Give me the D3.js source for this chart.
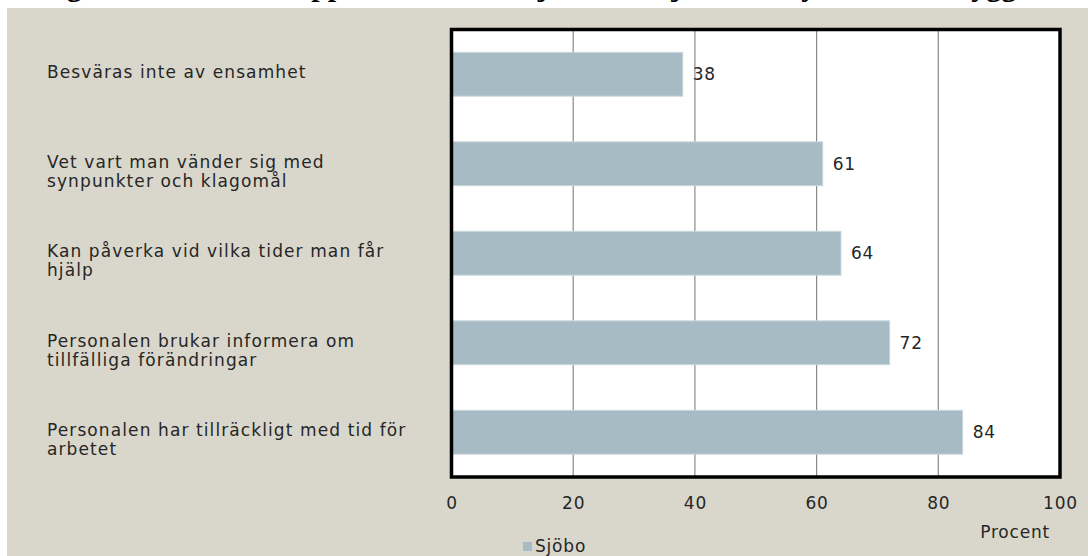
<!DOCTYPE html>
<html>
<head>
<meta charset="utf-8">
<script src="https://cdn.jsdelivr.net/npm/d3@7"></script>
<style>
  body { margin: 0; background: #fff; }
  svg { display: block; }
  text { font-family: "DejaVu Sans", sans-serif; fill: #262626; letter-spacing: 0.8px; }
</style>
</head>
<body>
<div id="chart"></div>
<script>
// data
var categories = [
  ["Besväras inte av ensamhet"],
  ["Vet vart man vänder sig med", "synpunkter och klagomål"],
  ["Kan påverka vid vilka tider man får", "hjälp"],
  ["Personalen brukar informera om", "tillfälliga förändringar"],
  ["Personalen har tillräckligt med tid för", "arbetet"]
];
var values = [38, 61, 64, 72, 84];
var xTicks = [0, 20, 40, 60, 80, 100];
var seriesName = "Sjöbo";
var axisTitle = "Procent";
var title = "Figur 4. Brukarnas upplevelse av hemtjänsten i Sjöbo – inflytande och trygghet";

var width = 1088, height = 556;
var box = {left: 451.5, right: 1060, top: 29.5, bottom: 477};

var svg = d3.select("#chart").append("svg")
    .attr("width", width)
    .attr("height", height);

// title, mostly cut off at the top
svg.append("text")
    .attr("x", 40)
    .attr("y", -4)
    .style("font-family", "'Liberation Serif', serif")
    .style("font-weight", "bold")
    .style("font-size", "30px")
    .style("letter-spacing", "0px")
    .style("fill", "#000")
    .text(title);

svg.append("rect")
    .attr("x", 7).attr("y", 8)
    .attr("width", width - 7).attr("height", height - 8)
    .attr("fill", "#d9d7cb");

var x = d3.scaleLinear().domain([0, 100]).range([box.left, box.right]);
var y = d3.scaleBand()
    .domain(d3.range(values.length))
    .range([box.top, box.bottom])
    .paddingInner(0.51).paddingOuter(0.255);

svg.append("rect")
    .attr("x", box.left).attr("y", box.top)
    .attr("width", box.right - box.left).attr("height", box.bottom - box.top)
    .attr("fill", "#fff");

// gridlines
svg.append("g").selectAll("line")
    .data(xTicks.slice(1, -1))
    .enter().append("line")
    .attr("x1", function(d) { return x(d); })
    .attr("x2", function(d) { return x(d); })
    .attr("y1", box.top).attr("y2", box.bottom)
    .attr("stroke", "#8a8a8a")
    .attr("stroke-width", 1.2);

// bars
svg.append("g").selectAll("rect")
    .data(values)
    .enter().append("rect")
    .attr("x", x(0))
    .attr("y", function(d, i) { return y(i); })
    .attr("width", function(d) { return x(d) - x(0); })
    .attr("height", y.bandwidth())
    .attr("fill", "#a7bbc5")
    .attr("stroke", "#c9d6dc")
    .attr("stroke-width", 1);

// value labels
svg.append("g").selectAll("text")
    .data(values)
    .enter().append("text")
    .attr("x", function(d) { return x(d) + 10; })
    .attr("y", function(d, i) { return y(i) + y.bandwidth() / 2; })
    .attr("dy", "0.35em")
    .style("font-size", "17px")
    .text(function(d) { return d; });

// plot border
svg.append("rect")
    .attr("x", box.left).attr("y", box.top)
    .attr("width", box.right - box.left).attr("height", box.bottom - box.top)
    .attr("fill", "none")
    .attr("stroke", "#000")
    .attr("stroke-width", 3.5);

// category labels
var cat = svg.append("g").selectAll("text")
    .data(categories)
    .enter().append("text")
    .attr("x", 47)
    .attr("y", function(d, i) { return y(i) + y.bandwidth() / 2 - 2; })
    .style("font-size", "17px")
    .style("letter-spacing", "1.1px");
cat.selectAll("tspan")
    .data(function(d) { return d; })
    .enter().append("tspan")
    .attr("x", 47)
    .attr("dy", function(d, i) { return i === 0 ? "0.35em" : "19px"; })
    .text(function(d) { return d; });

// x axis
var axis = svg.append("g")
    .attr("transform", "translate(0," + box.bottom + ")")
    .call(d3.axisBottom(x).tickValues(xTicks).tickSize(0).tickPadding(20));
axis.select(".domain").remove();
axis.selectAll("text")
    .style("font-family", "'DejaVu Sans', sans-serif")
    .style("font-size", "17px")
    .attr("fill", "#262626");

svg.append("text")
    .attr("x", 1050).attr("y", 532)
    .attr("dy", "0.35em")
    .attr("text-anchor", "end")
    .style("font-size", "17px")
    .text(axisTitle);

// legend
svg.append("rect")
    .attr("x", 523).attr("y", 542)
    .attr("width", 9).attr("height", 9)
    .attr("fill", "#a7bbc5");
svg.append("text")
    .attr("x", 535).attr("y", 546)
    .attr("dy", "0.35em")
    .style("font-size", "17px")
    .text(seriesName);
</script>
</body>
</html>
